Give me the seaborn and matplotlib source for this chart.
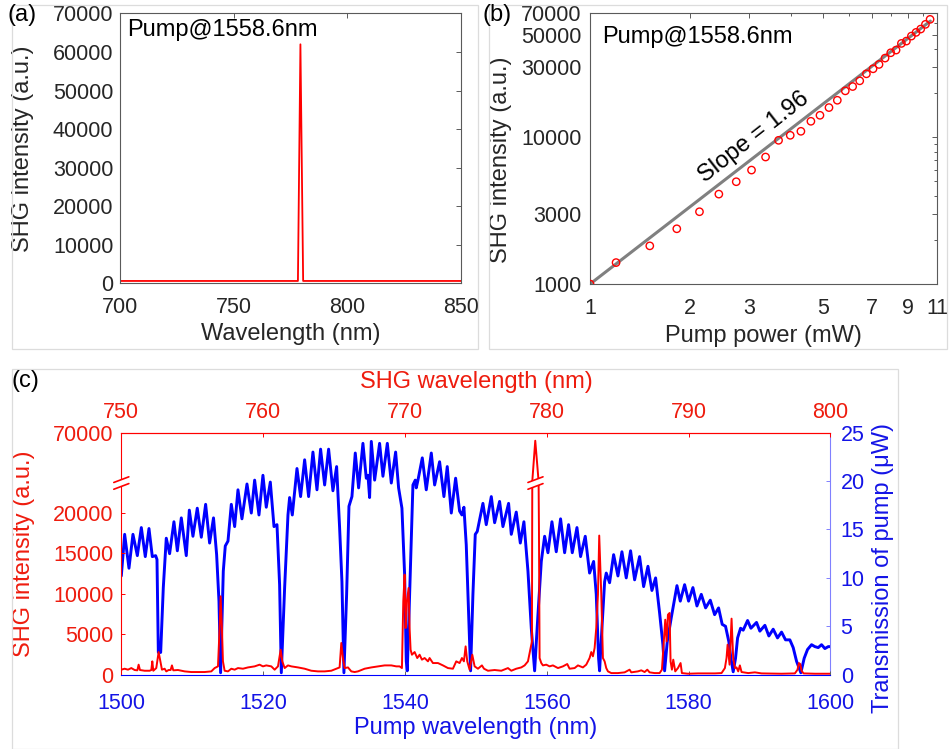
import numpy as np
import matplotlib
matplotlib.use("Agg")
import matplotlib.pyplot as plt
from matplotlib.patches import Rectangle, Polygon
from matplotlib.transforms import blended_transform_factory
from matplotlib.ticker import NullFormatter, NullLocator
import seaborn as sns

# -------------------------
# data
# -------------------------
# (a) SHG spectrum, pump at 1558.6 nm
spec_wl = [700, 778.2, 779.3, 780.5, 850]
spec_shg = [600, 600, 62000, 600, 600]

# (b) SHG vs pump power
power_mw = [1.0, 1.197, 1.511, 1.821, 2.130, 2.435, 2.746, 3.052, 3.363, 3.679,
            3.988, 4.293, 4.600, 4.897, 5.212, 5.521, 5.834, 6.138, 6.446, 6.750,
            7.068, 7.365, 7.679, 7.987, 8.286, 8.597, 8.899, 9.211, 9.513, 9.825,
            10.15, 10.48]
shg_counts = [1000, 1400, 1820, 2380, 3110, 4100, 4980, 5980, 7340, 9540,
              10320, 10990, 12860, 14130, 15950, 17890, 20730, 22190, 24270, 27090,
              29310, 31380, 34670, 37700, 39320, 43650, 45290, 48980, 51910, 54700,
              58880, 63680]
fit_power = [1.0, 10.5]
fit_counts = [1000, 62000]

# (c) pump transmission (uW)
trans_wl = [1500.0, 1500.47, 1501.08, 1501.64, 1502.26, 1502.82, 1503.38, 1503.90, 1504.37, 1504.84,
            1505.03, 1505.22, 1505.55, 1505.92, 1506.34, 1506.81, 1507.42, 1507.90, 1508.46, 1508.83,
            1509.16, 1509.59, 1510.10, 1510.71, 1511.28, 1511.89, 1512.45, 1513.00, 1513.44, 1513.77,
            1514.00, 1514.38, 1514.66, 1515.04, 1515.51, 1515.98, 1516.45, 1517.01, 1517.72, 1518.33,
            1518.80, 1519.41, 1519.97, 1520.44, 1521.01, 1521.53, 1521.95, 1522.32, 1522.56, 1523.03,
            1523.50, 1523.73, 1524.11, 1524.77, 1525.28, 1525.85, 1526.41, 1527.02, 1527.59, 1528.10,
            1528.67, 1529.23, 1529.84, 1530.36, 1530.78, 1531.11, 1531.39, 1531.77, 1532.10, 1532.52,
            1532.99, 1533.46, 1534.07, 1534.54, 1534.78, 1535.01, 1535.25, 1535.72, 1536.42, 1536.89,
            1537.51, 1538.07, 1538.68, 1539.10, 1539.57, 1539.95, 1540.18, 1540.32, 1540.51, 1540.79,
            1541.12, 1541.45, 1541.59, 1541.83, 1542.44, 1543.00, 1543.71, 1544.18, 1544.88, 1545.49,
            1545.96, 1546.53, 1547.14, 1547.70, 1548.03, 1548.31, 1548.64, 1548.97, 1549.25, 1549.58,
            1549.91, 1550.19, 1550.99, 1551.46, 1552.17, 1552.64, 1553.34, 1553.81, 1554.61, 1554.99,
            1555.69, 1556.26, 1556.77, 1557.34, 1557.81, 1558.28, 1558.75, 1559.22, 1559.69, 1560.16,
            1560.72, 1561.33, 1561.94, 1562.51, 1563.07, 1563.59, 1564.25, 1564.76, 1565.42, 1566.03,
            1566.60, 1566.97, 1567.30, 1567.44, 1567.77, 1568.15, 1568.38, 1568.85, 1569.42, 1570.03,
            1570.59, 1571.20, 1571.81, 1572.38, 1573.08, 1573.65, 1574.26, 1574.82, 1575.34, 1575.90,
            1576.37, 1576.61, 1576.98, 1577.55, 1578.35, 1578.82, 1579.43, 1579.99, 1580.60, 1581.17,
            1581.78, 1582.39, 1583.05, 1583.66, 1584.22, 1584.73, 1585.20, 1585.67, 1585.96, 1586.28,
            1586.61, 1586.90, 1587.32, 1587.69, 1588.31, 1588.78, 1589.57, 1590.04, 1590.75, 1591.31,
            1591.92, 1592.53, 1593.10, 1593.66, 1594.27, 1594.74, 1595.21, 1595.82, 1596.29, 1596.76,
            1597.33, 1597.80, 1598.27, 1598.74, 1599.21, 1599.68, 1600.0]
trans_uw = [10.2, 14.5, 11.0, 14.5, 12.3, 15.2, 12.2, 15.1, 12.2, 12.3,
            11.9, 2.3, 2.3, 9.0, 14.1, 12.5, 15.8, 12.8, 16.2, 14.1,
            12.3, 17.0, 14.3, 17.2, 14.2, 17.6, 13.6, 16.2, 12.4, 7.6,
            0.2, 10.7, 13.3, 13.8, 17.6, 15.3, 19.1, 16.1, 19.7, 16.7,
            20.1, 16.5, 20.6, 17.3, 19.9, 15.3, 15.5, 9.3, 0.2, 9.0,
            16.5, 18.3, 16.5, 21.3, 18.4, 22.2, 18.4, 23.0, 19.1, 23.3,
            19.6, 23.3, 19.0, 21.5, 15.2, 9.6, 0.2, 8.3, 17.4, 18.4,
            22.9, 19.3, 23.9, 20.3, 20.6, 18.3, 24.1, 20.1, 23.9, 20.5,
            23.9, 19.8, 23.0, 19.3, 17.2, 10.3, 1.4, 0.4, 4.8, 11.7,
            19.6, 20.1, 19.3, 20.1, 22.4, 19.1, 22.9, 19.6, 22.0, 18.4,
            21.5, 16.7, 20.3, 16.9, 16.5, 17.3, 13.4, 6.5, 0.4, 8.3,
            14.5, 14.8, 17.7, 15.5, 18.4, 15.7, 17.9, 15.3, 17.7, 14.5,
            16.8, 13.6, 15.8, 10.7, 4.8, 0.4, 6.2, 11.7, 14.3, 12.6,
            15.8, 12.7, 16.1, 12.6, 15.5, 12.6, 15.2, 12.2, 14.3, 10.5,
            11.7, 8.3, 1.7, 0.4, 4.8, 9.6, 10.5, 9.5, 12.4, 10.2,
            12.7, 10.0, 12.8, 9.8, 12.2, 9.1, 11.2, 8.7, 10.0, 6.4,
            3.1, 0.4, 3.4, 5.9, 9.2, 7.6, 9.3, 7.6, 9.0, 7.1,
            8.3, 6.9, 7.7, 6.2, 6.9, 5.2, 5.0, 3.4, 1.7, 0.3,
            1.7, 3.8, 4.8, 4.6, 5.6, 4.8, 5.4, 4.5, 5.1, 4.0,
            4.7, 3.8, 4.4, 3.6, 3.6, 2.8, 1.4, 0.2, 1.7, 2.6,
            3.1, 2.9, 2.8, 3.1, 2.7, 2.9, 2.9]

# (c) SHG intensity (a.u.)
shg_wl = [1500.0, 1500.47, 1500.94, 1501.41, 1501.88, 1502.26, 1502.44, 1502.63, 1503.29, 1503.99,
          1504.23, 1504.37, 1504.51, 1504.93, 1505.26, 1505.50, 1505.73, 1506.11, 1506.34, 1506.67,
          1506.95, 1507.14, 1507.33, 1507.99, 1508.46, 1508.93, 1509.87, 1510.81, 1511.75, 1512.69,
          1513.16, 1513.63, 1513.86, 1514.00, 1514.19, 1514.33, 1514.57, 1515.04, 1515.51, 1515.98,
          1516.45, 1517.15, 1517.86, 1518.80, 1519.50, 1519.97, 1520.44, 1521.15, 1521.62, 1522.09,
          1522.47, 1522.70, 1523.03, 1523.50, 1523.97, 1524.91, 1525.85, 1526.79, 1527.73, 1528.67,
          1529.61, 1530.31, 1530.78, 1531.02, 1531.25, 1531.49, 1531.96, 1532.43, 1532.90, 1533.37,
          1534.31, 1535.25, 1536.19, 1537.13, 1538.07, 1538.77, 1539.24, 1539.57, 1539.76, 1539.95,
          1540.09, 1540.28, 1540.51, 1540.65, 1540.79, 1540.98, 1541.36, 1541.73, 1542.06, 1542.39,
          1542.77, 1543.24, 1543.47, 1543.94, 1544.65, 1545.35, 1546.06, 1546.76, 1547.23, 1547.70,
          1548.03, 1548.31, 1548.55, 1548.78, 1549.11, 1549.49, 1549.82, 1550.29, 1550.85, 1551.14,
          1551.70, 1552.64, 1553.58, 1554.52, 1554.99, 1555.69, 1556.40, 1556.87, 1557.34, 1557.67,
          1557.90, 1557.95, 1558.37, 1558.84, 1558.89, 1558.98, 1559.22, 1559.45, 1559.92, 1560.39,
          1560.86, 1561.57, 1562.27, 1562.88, 1563.21, 1563.92, 1564.39, 1565.09, 1565.56, 1566.03,
          1566.27, 1566.50, 1566.74, 1566.97, 1567.21, 1567.39, 1567.68, 1567.91, 1568.15, 1568.38,
          1568.62, 1569.09, 1570.03, 1570.97, 1571.67, 1571.91, 1572.85, 1573.32, 1573.79, 1574.17,
          1574.49, 1575.20, 1575.90, 1576.23, 1576.47, 1576.70, 1576.89, 1577.08, 1577.31, 1577.45,
          1577.64, 1577.83, 1578.11, 1578.49, 1578.86, 1579.05, 1579.90, 1581.31, 1582.72, 1583.70,
          1584.64, 1585.11, 1585.34, 1585.49, 1585.77, 1586.05, 1586.28, 1586.52, 1586.75, 1586.99,
          1587.22, 1587.46, 1588.40, 1589.34, 1590.28, 1593.10, 1594.98, 1595.35, 1595.54, 1595.73,
          1595.92, 1596.20, 1597.80, 1600.0]
shg_int = [620, 740, 620, 820, 580, 540, 1240, 580, 490, 490,
           580, 1650, 490, 820, 2800, 1650, 620, 740, 410, 580,
           580, 1150, 540, 580, 490, 410, 330, 330, 330, 410,
           820, 1030, 5770, 9690, 5770, 1650, 490, 410, 740, 620,
           820, 740, 900, 1030, 1240, 1030, 1150, 1030, 620, 1030,
           3090, 1650, 820, 1150, 1030, 900, 740, 490, 410, 410,
           490, 740, 900, 3920, 2060, 820, 900, 410, 330, 410,
           740, 900, 1030, 1150, 1150, 1030, 1030, 820, 9070, 12370,
           5770, 9070, 10720, 5770, 3090, 2470, 2800, 2060, 2470, 1860,
           2060, 1650, 2060, 1440, 1440, 1150, 820, 740, 1650, 1440,
           2060, 1650, 3500, 1650, 620, 2470, 1030, 740, 1150, 740,
           490, 580, 490, 820, 490, 740, 900, 1150, 1650, 3090,
           4120, 25270, 62600, 25270, 18140, 2060, 1440, 1150, 1240, 1030,
           1150, 820, 1030, 1320, 740, 820, 1150, 900, 1240, 2060,
           2800, 2270, 3300, 5770, 9900, 17200, 9900, 2060, 1650, 820,
           410, 200, 200, 290, 620, 290, 410, 540, 330, 620,
           290, 200, 200, 620, 3710, 6800, 4120, 7420, 7630, 1650,
           620, 1860, 410, 820, 1440, 200, 120, 160, 160, 160,
           200, 820, 2060, 3710, 1240, 6930, 2060, 820, 900, 410,
           1150, 330, 200, 290, 160, 120, 160, 620, 1440, 1320,
           490, 160, 120, 120]

c_yticks = [0, 5000, 10000, 15000, 20000, 70000]
c_xticks = [1500, 1520, 1540, 1560, 1580, 1600]
c_top_ticks = [750, 760, 770, 780, 790, 800]

# -------------------------
# style
# -------------------------
RED = "#ff0000"
RED_TXT = "#ee1c0e"
BLUE = "#0000ff"
BLUE_TXT = "#1414e6"
AX_GREY = "#5a5a5a"
TXT = "#262626"
TICK_FS = 15.5
LAB_FS = 17

sns.set_theme(style="white")
plt.rcParams["font.family"] = ["Liberation Sans", "DejaVu Sans"]
plt.rcParams["axes.linewidth"] = 0.8

# broken y axis for (c): linear up to BREAK, squeezed above
BREAK = 23700
SQUEEZE = 0.1343


def squeeze_fwd(v):
    v = np.asarray(v, dtype=float)
    return np.where(v <= BREAK, v, BREAK + (v - BREAK) * SQUEEZE)


def squeeze_inv(v):
    v = np.asarray(v, dtype=float)
    return np.where(v <= BREAK, v, BREAK + (v - BREAK) / SQUEEZE)


def style_box(ax):
    for s in ax.spines.values():
        s.set_color(AX_GREY)
        s.set_linewidth(0.8)
        s.set_visible(True)


fig = plt.figure(figsize=(9.5, 7.49), dpi=100)

# light panel frames
for (x0, y0, w, h) in [(0.0126, 0.534, 0.4905, 0.4593),
                       (0.5147, 0.534, 0.4821, 0.4593),
                       (0.0126, 0.0, 0.9326, 0.5073)]:
    fig.patches.append(Rectangle((x0, y0), w, h, transform=fig.transFigure,
                                 fill=False, edgecolor="#dcdcdc", lw=0.9))

ax_a = fig.add_axes([0.1266, 0.6218, 0.3587, 0.3602])
ax_b = fig.add_axes([0.6211, 0.6208, 0.3653, 0.3614])
ax_c = fig.add_axes([0.1277, 0.0992, 0.7465, 0.3231])

# -------------------------
# (a)
# -------------------------
sns.lineplot(x=spec_wl, y=spec_shg, ax=ax_a, color=RED, lw=1.3,
             estimator=None, sort=False)
ax_a.set_xlim(700, 850)
ax_a.set_ylim(0, 70000)
ax_a.set_xticks([700, 750, 800, 850])
ax_a.set_yticks(range(0, 70001, 10000))
style_box(ax_a)
ax_a.tick_params(direction="in", top=True, right=True, length=3.5, width=0.7,
                 colors=AX_GREY, labelcolor=TXT, labelsize=TICK_FS)
ax_a.tick_params(axis="x", pad=9.6)
ax_a.tick_params(axis="y", pad=5)
ax_a.set_xlabel("Wavelength (nm)", fontsize=LAB_FS, color=TXT, va="center")
ax_a.set_ylabel("SHG intensity (a.u.)", fontsize=LAB_FS, color=TXT, va="center")
ax_a.xaxis.set_label_coords(0.5, -0.188)
ax_a.yaxis.set_label_coords(-0.285, 0.5)
ax_a.text(0.019, 0.9166, "Pump@1558.6nm", transform=ax_a.transAxes,
          fontsize=LAB_FS, color="black", va="baseline", ha="left")

# -------------------------
# (b)
# -------------------------
ax_b.set_xscale("log")
ax_b.set_yscale("log")
sns.lineplot(x=fit_power, y=fit_counts, ax=ax_b, color="#808080", lw=2.2,
             estimator=None, sort=False)
sns.scatterplot(x=power_mw, y=shg_counts, ax=ax_b, marker="o", s=28,
                facecolors="none", edgecolor=RED, linewidth=1.0, zorder=3)
ax_b.set_xlim(1, 11)
ax_b.set_ylim(1000, 70000)
ax_b.set_xticks([1, 2, 3, 5, 7, 9, 11], labels=["1", "2", "3", "5", "7", "9", "11"])
ax_b.set_xticks([4, 6, 8, 10], minor=True)
ax_b.set_yticks([1000, 3000, 10000, 30000, 50000, 70000],
                labels=["1000", "3000", "10000", "30000", "50000", "70000"])
ax_b.set_yticks([2000, 4000, 5000, 6000, 7000, 8000, 9000, 20000, 40000, 60000],
                minor=True)
ax_b.xaxis.set_minor_formatter(NullFormatter())
ax_b.yaxis.set_minor_formatter(NullFormatter())
style_box(ax_b)
ax_b.tick_params(which="both", direction="in", top=True, right=True, width=0.7,
                 colors=AX_GREY, labelcolor=TXT, labelsize=TICK_FS)
ax_b.tick_params(which="major", length=3.5)
ax_b.tick_params(which="minor", length=2)
ax_b.tick_params(axis="x", which="both", pad=10)
ax_b.tick_params(axis="y", which="both", pad=6)
ax_b.set_xlabel("Pump power (mW)", fontsize=LAB_FS, color=TXT, va="center")
ax_b.set_ylabel("SHG intensity (a.u.)", fontsize=LAB_FS, color=TXT, va="center")
ax_b.xaxis.set_label_coords(0.5, -0.192)
ax_b.yaxis.set_label_coords(-0.257, 0.458)
ax_b.text(0.034, 0.889, "Pump@1558.6nm", transform=ax_b.transAxes,
          fontsize=LAB_FS, color="black", va="baseline", ha="left")
ax_b.text(0.471, 0.544, "Slope = 1.96", transform=ax_b.transAxes,
          fontsize=LAB_FS, color="black", rotation=38, rotation_mode="anchor",
          ha="center", va="center")

# -------------------------
# (c)
# -------------------------
ax_t = ax_c.twinx()
ax_c.set_zorder(ax_t.get_zorder() + 1)
ax_c.patch.set_visible(False)

sns.lineplot(x=trans_wl, y=trans_uw, ax=ax_t, color=BLUE, lw=2.1,
             estimator=None, sort=False, solid_joinstyle="round",
             solid_capstyle="round")
sns.lineplot(x=shg_wl, y=shg_int, ax=ax_c, color=RED, lw=1.4,
             estimator=None, sort=False, solid_joinstyle="round")

ax_c.set_yscale("function", functions=(squeeze_fwd, squeeze_inv))
ax_c.set_xlim(1500, 1600)
ax_c.set_ylim(0, 70000)
ax_t.set_ylim(0, 25)
ax_c.set_xticks(c_xticks)
ax_c.set_yticks(c_yticks, labels=[str(v) for v in c_yticks])
ax_c.yaxis.set_minor_formatter(NullFormatter())
ax_c.yaxis.set_minor_locator(NullLocator())
ax_t.set_yticks([0, 5, 10, 15, 20, 25])

for s in ["left", "top"]:
    ax_c.spines[s].set_color(RED)
ax_c.spines["bottom"].set_color(BLUE)
ax_c.spines["right"].set_visible(False)
for s in ["left", "top", "bottom"]:
    ax_t.spines[s].set_visible(False)
ax_t.spines["right"].set_color("#8080ff")

ax_c.tick_params(axis="y", direction="in", length=3, width=0.7, colors=RED,
                 labelcolor=RED_TXT, labelsize=TICK_FS, pad=5.8, left=True)
ax_c.tick_params(axis="x", direction="in", length=3, width=0.7, colors="#606060",
                 labelcolor=BLUE_TXT, labelsize=TICK_FS, pad=13, bottom=True)
ax_t.tick_params(axis="y", direction="in", length=3, width=0.7, colors="#8080ff",
                 labelcolor=BLUE_TXT, labelsize=TICK_FS, pad=7.3, right=True)

sec = ax_c.secondary_xaxis("top", functions=(lambda x: x / 2, lambda x: x * 2))
sec.set_xticks(c_top_ticks)
sec.spines["top"].set_color(RED)
sec.tick_params(direction="in", length=3, width=0.7, colors=RED,
                labelcolor=RED_TXT, labelsize=TICK_FS, pad=7.2)

ax_c.set_xlabel("Pump wavelength (nm)", fontsize=LAB_FS, color=BLUE_TXT, va="center")
ax_c.xaxis.set_label_coords(0.499, -0.22)
ax_c.set_ylabel("SHG intensity (a.u.)", fontsize=LAB_FS, color=RED_TXT, va="center")
ax_c.yaxis.set_label_coords(-0.137, 0.5)
ax_t.set_ylabel("Transmission of pump (\u03bcW)", fontsize=LAB_FS, color=BLUE_TXT,
                va="center")
ax_t.yaxis.set_label_coords(1.074, 0.441)
sec.set_xlabel("SHG wavelength (nm)", fontsize=LAB_FS, color=RED_TXT, va="center")
sec.xaxis.set_label_coords(0.5, 1.2095, transform=ax_c.transAxes)

# axis-break marks: on the left spine and on the clipped peak
y_up, y_lo, dy = 0.806, 0.778, 0.0117


def break_mark(trans, xc, dx):
    gap = Polygon([(xc - dx, y_lo - dy), (xc + dx, y_lo + dy),
                   (xc + dx, y_up + dy), (xc - dx, y_up - dy)],
                  closed=True, facecolor="white", edgecolor="none",
                  transform=trans, clip_on=False, zorder=5)
    ax_c.add_patch(gap)
    for yc in (y_up, y_lo):
        ax_c.plot([xc - dx, xc + dx], [yc - dy, yc + dy], color=RED, lw=1.2,
                  transform=trans, clip_on=False, zorder=6)


break_mark(ax_c.transAxes, 0.0, 0.0106)
break_mark(blended_transform_factory(ax_c.transData, ax_c.transAxes), 1558.4, 1.06)

# panel letters
fig.text(0.0084, 1 - 15 / 749, "(a)", fontsize=LAB_FS, color="black", va="center", ha="left")
fig.text(0.5084, 1 - 15 / 749, "(b)", fontsize=LAB_FS, color="black", va="center", ha="left")
fig.text(0.0126, 1 - 381 / 749, "(c)", fontsize=LAB_FS, color="black", va="center", ha="left")

fig.savefig("out.png", dpi=100)
